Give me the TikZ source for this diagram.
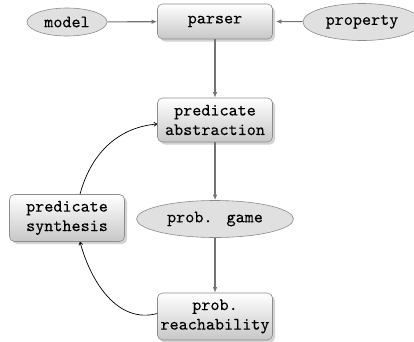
\documentclass[tikz,border=0pt]{standalone}
\usepackage{fontspec}
\setmonofont{lmmono10-regular.otf}[FakeBold=0.12]
\usetikzlibrary{shapes.geometric,shadows,arrows.meta}
\begin{document}
\begin{tikzpicture}[x=1pt,y=1pt,
  font=\ttfamily\fontsize{17.3}{19.5}\selectfont,
  box/.style={rectangle, rounded corners=5pt, draw=black!45, line width=0.6pt,
    top color=white, bottom color=black!22, align=center, inner sep=2pt,
    minimum width=115pt, drop shadow={shadow xshift=2.5pt, shadow yshift=-2.5pt, opacity=0.35}},
  oval/.style={ellipse, draw=black!45, line width=0.6pt, fill=black!12, inner sep=1pt},
  flow/.style={draw=black!55, line width=1.1pt, -{Latex[length=5.5pt,width=4.5pt]}},
  loop/.style={draw=black, line width=0.7pt, -{To[length=3.5pt,width=4.5pt]}}]
\useasboundingbox (0,0) rectangle (414,-341);
\node[oval, minimum width=80pt, minimum height=28pt] (model) at (67,-22) {model};
\node[box, minimum height=35pt] (parser) at (215,-21.5) {parser};
\node[oval, minimum width=118pt, minimum height=37pt] (property) at (362,-22) {property};
\node[box, minimum height=44pt] (abs) at (215,-120) {predicate\\abstraction};
\node[oval, minimum width=157pt, minimum height=37pt] (game) at (215,-219) {prob.\kern5pt\ game};
\node[box, minimum height=47pt] (synth) at (67,-218) {predicate\\synthesis};
\node[box, minimum height=47pt] (reach) at (215,-316.5) {prob.\\reachability};
\draw[flow] (model) -- (parser);
\draw[flow] (property) -- ([xshift=3pt]parser.east);
\draw[flow] (parser) -- (abs);
\draw[flow] (abs) -- (game);
\draw[flow] (game) -- (reach);
\draw[loop] ([yshift=3pt]reach.west) to[out=195,in=-75] ([xshift=13pt]synth.south);
\draw[loop] ([xshift=13pt]synth.north) to[out=75,in=185] ([yshift=-4pt]abs.west);
\end{tikzpicture}
\end{document}
